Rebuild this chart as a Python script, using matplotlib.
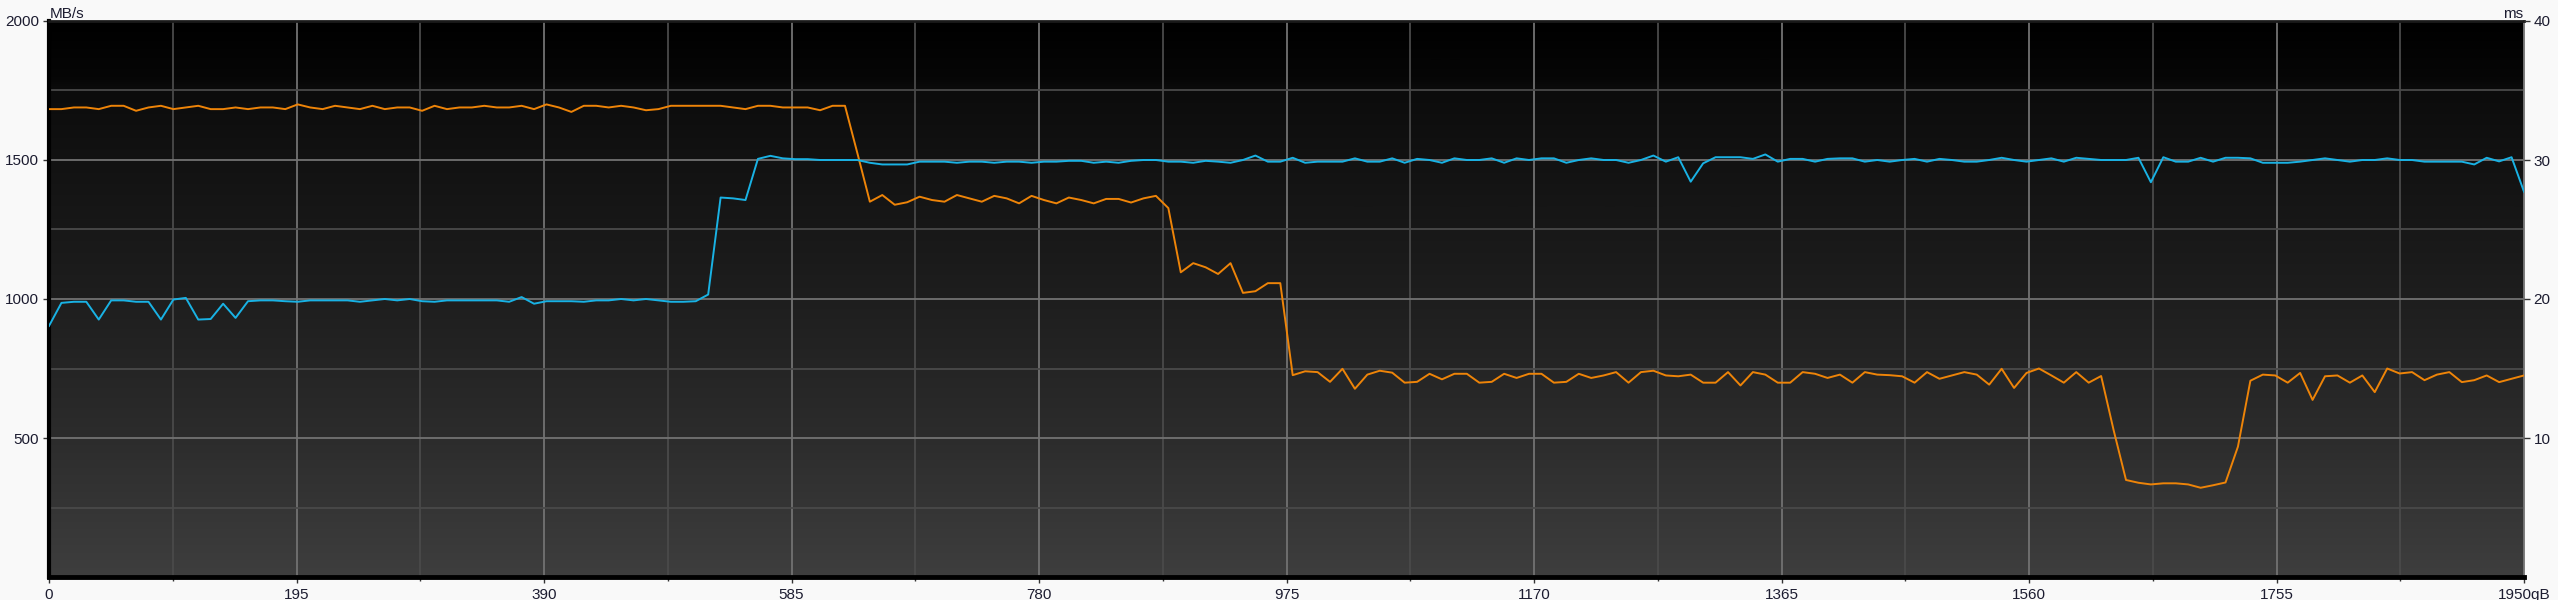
import numpy as np
import matplotlib as mpl; mpl.use('agg')
import matplotlib.pyplot as plt
from matplotlib.colors import LinearSegmentedColormap

# --- data, x in gB, values in MB/s
X_MAX = 1950
x_ticks = [0, 195, 390, 585, 780, 975, 1170, 1365, 1560, 1755, 1950]
x_tick_labels = ['0', '195', '390', '585', '780', '975', '1170', '1365',
                 '1560', '1755', '1950gB']
mbs_ticks = [500, 1000, 1500, 2000]
ms_ticks = [10, 20, 30, 40]

orange_mbs = [
    1683, 1683, 1689, 1689, 1683, 1695, 1695, 1677, 1689, 1695,
    1683, 1689, 1695, 1683, 1683, 1689, 1683, 1689, 1689, 1683,
    1700, 1689, 1683, 1695, 1689, 1683, 1695, 1683, 1689, 1689,
    1677, 1695, 1683, 1689, 1689, 1695, 1689, 1689, 1695, 1683,
    1700, 1689, 1673, 1695, 1695, 1689, 1695, 1689, 1679, 1683,
    1695, 1695, 1695, 1695, 1695, 1689, 1683, 1695, 1695, 1689,
    1689, 1689, 1679, 1695, 1695, 1524, 1350, 1374, 1339, 1348,
    1368, 1356, 1350, 1374, 1362, 1350, 1371, 1362, 1344, 1371,
    1356, 1344, 1365, 1356, 1344, 1360, 1360, 1347, 1362, 1371,
    1327, 1096, 1129, 1114, 1090, 1129, 1022, 1028, 1057, 1057,
    726, 740, 737, 702, 749, 677, 728, 742, 735, 699,
    702, 731, 711, 731, 731, 699, 702, 731, 716, 731,
    731, 699, 702, 731, 716, 725, 737, 699, 737, 742,
    725, 722, 728, 699, 699, 737, 689, 737, 728, 699,
    699, 737, 731, 716, 728, 699, 737, 728, 726, 722,
    699, 737, 713, 725, 737, 728, 692, 749, 680, 734,
    750, 725, 699, 737, 699, 723, 529, 349, 339, 333,
    337, 337, 333, 321, 330, 340, 469, 706, 728, 725,
    699, 734, 637, 722, 725, 699, 725, 665, 750, 732,
    737, 708, 728, 737, 701, 708, 725, 701, 713, 725,
]

blue_mbs = [
    903, 986, 990, 990, 926, 995, 995, 990, 990, 926,
    998, 1004, 926, 928, 983, 932, 992, 995, 995, 992,
    990, 995, 995, 995, 995, 990, 995, 1000, 995, 1000,
    992, 990, 995, 995, 995, 995, 995, 990, 1007, 983,
    992, 992, 992, 990, 995, 995, 1000, 995, 1000, 995,
    990, 990, 992, 1016, 1365, 1362, 1356, 1504, 1515, 1506,
    1503, 1503, 1500, 1500, 1500, 1500, 1490, 1484, 1484, 1484,
    1494, 1494, 1494, 1490, 1494, 1494, 1490, 1494, 1494, 1490,
    1494, 1494, 1497, 1497, 1490, 1494, 1490, 1497, 1500, 1500,
    1494, 1494, 1490, 1497, 1494, 1490, 1500, 1516, 1494, 1494,
    1508, 1490, 1494, 1494, 1494, 1506, 1494, 1494, 1506, 1490,
    1504, 1500, 1490, 1506, 1500, 1500, 1506, 1490, 1506, 1500,
    1506, 1506, 1490, 1500, 1506, 1500, 1500, 1490, 1500, 1516,
    1494, 1510, 1422, 1488, 1510, 1510, 1510, 1504, 1520, 1494,
    1504, 1504, 1494, 1504, 1506, 1506, 1494, 1500, 1494, 1500,
    1504, 1494, 1504, 1500, 1494, 1494, 1500, 1508, 1500, 1494,
    1500, 1506, 1494, 1508, 1504, 1500, 1500, 1500, 1508, 1420,
    1510, 1494, 1494, 1508, 1494, 1508, 1508, 1506, 1490, 1490,
    1490, 1494, 1500, 1506, 1500, 1494, 1500, 1500, 1506, 1500,
    1500, 1494, 1494, 1494, 1494, 1484, 1508, 1495, 1510, 1386,
]

W, H = 2558, 600
TEXT_COLOR = '#1c1c30'
plt.rcParams['font.family'] = ['Liberation Sans', 'DejaVu Sans']

fig = plt.figure(figsize=(W/100, H/100), dpi=100, facecolor='#f9f9f9')
ax = fig.add_axes([49/W, 23/H, 2475/W, 556/H])

# --- background gradient (dark at top, grey at bottom)
bg_cmap = LinearSegmentedColormap.from_list('bg', [
    (0.0, '#3e3e3e'), (0.25, '#2c2c2c'), (0.5, '#1e1e1e'),
    (0.75, '#121212'), (0.875, '#0c0c0c'), (0.9, '#060606'), (1.0, '#000000'),
])
ax.imshow(np.linspace(0, 1, 512).reshape(-1, 1), extent=[0, X_MAX, 0, 2000],
          aspect='auto', origin='lower', cmap=bg_cmap, zorder=0)

# --- lines
x_orange = np.linspace(0, X_MAX, len(orange_mbs))
x_blue = np.linspace(0, X_MAX, len(blue_mbs))
ax.plot(x_orange, orange_mbs, color='#ee8408', lw=1.4, zorder=3)
ax.plot(x_blue, blue_mbs, color='#19b2e4', lw=1.4, zorder=3)

ax.set_xlim(0, X_MAX)
ax.set_ylim(0, 2000)

# --- grid
ax.set_xticks(x_ticks)
ax.set_xticklabels(x_tick_labels)
ax.set_xticks([t + 97.5 for t in x_ticks[:-1]], minor=True)
ax.set_yticks(mbs_ticks)
ax.set_yticks([250, 750, 1250, 1750], minor=True)
ax.grid(which='major', color='#727272', lw=1.3, zorder=1)
ax.grid(which='minor', color='#4a4a4a', lw=1.3, zorder=1)

ax.tick_params(axis='both', which='major', direction='out', length=4,
               width=1, color='#333333', labelcolor=TEXT_COLOR, labelsize=11)
ax.tick_params(axis='x', which='minor', direction='out', length=3,
               width=1, color='#333333')
ax.tick_params(axis='y', which='minor', length=0)
ax.tick_params(axis='y', pad=3)
ax.tick_params(axis='x', pad=4)

for side, lw, col in [('left', 3.0, '#000000'), ('bottom', 3.5, '#000000'),
                      ('top', 2.0, '#1a1a1a'), ('right', 1.3, '#727272')]:
    ax.spines[side].set_linewidth(lw)
    ax.spines[side].set_color(col)

# --- right axis (ms)
ax2 = ax.twinx()
ax2.set_ylim(0, 40)
ax2.set_yticks(ms_ticks)
ax2.tick_params(axis='y', direction='out', length=4, width=1,
                color='#333333', labelcolor=TEXT_COLOR, labelsize=11, pad=3)
for s in ax2.spines.values():
    s.set_visible(False)

# --- unit labels
fig.text(50/W, 1 - 18/H, 'MB/s', fontsize=11, color=TEXT_COLOR,
         ha='left', va='baseline')
fig.text(2523/W, 1 - 18/H, 'ms', fontsize=11, color=TEXT_COLOR,
         ha='right', va='baseline')

fig.savefig('out.png', dpi=100, facecolor=fig.get_facecolor())
